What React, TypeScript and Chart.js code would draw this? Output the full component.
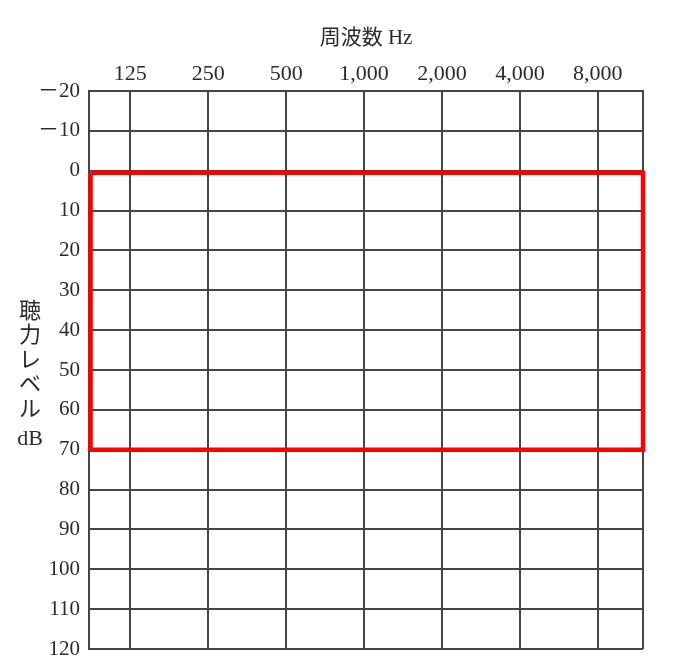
import { useEffect, useRef } from 'react';
import { Chart, registerables } from 'chart.js';

Chart.register(...registerables);

// frequency columns (index positions on the x axis)
const freqLabels = ['125', '250', '500', '1,000', '2,000', '4,000', '8,000'];
// hearing level ticks (dB), reversed axis
const dbMin = -20;
const dbMax = 120;
const dbStep = 10;
// x axis range in octave steps around the 125..8000 columns
const xMin = -0.53;
const xMax = 6.58;
// red highlighted band
const bandX = [xMin + 0.02, xMax, xMax, xMin + 0.02, xMin + 0.02];
const bandY = [0.5, 0.5, 70, 70, 0.5];

const xTitle = '周波数 Hz';
const yTitleLines = ['聴', '力', 'レ', 'ベ', 'ル', 'dB'];

const gridColor = '#454545';
const textColor = '#2a2a2a';
const serif = '"Liberation Serif", "DejaVu Serif", "Noto Sans CJK JP", serif';

const yTitlePlugin = {
  id: 'yTitle',
  afterDraw(chart: Chart) {
    const ctx = chart.ctx;
    ctx.save();
    ctx.fillStyle = textColor;
    ctx.textAlign = 'center';
    ctx.textBaseline = 'middle';
    yTitleLines.forEach((t, i) => {
      ctx.font = `${t === 'dB' ? 22 : 22}px ${serif}`;
      const y = 312 + i * 24.5 + (i === 5 ? 5 : 0);
      ctx.fillText(t, 30, y);
    });
    ctx.restore();
  },
};

export default function App() {
  const canvasRef = useRef<HTMLCanvasElement>(null);

  useEffect(() => {
    if (!canvasRef.current) return;
    const chart = new Chart(canvasRef.current, {
      type: 'line',
      data: {
        datasets: [
          {
            data: bandX.map((x, i) => ({ x, y: bandY[i] })),
            borderColor: '#ff0000',
            borderWidth: 4.5,
            pointRadius: 0,
            fill: false,
            clip: false,
          } as any,
        ],
      },
      options: {
        animation: false,
        responsive: true,
        maintainAspectRatio: false,
        layout: { padding: { left: 0, top: 0, right: 33, bottom: 23 } },
        plugins: { legend: { display: false }, tooltip: { enabled: false } },
        scales: {
          x: {
            type: 'linear',
            position: 'top',
            min: xMin,
            max: xMax,
            afterBuildTicks: (scale: any) => {
              scale.ticks = [xMin, ...freqLabels.map((_, i) => i), xMax].map((v) => ({ value: v }));
            },
            afterFit: (scale: any) => {
              scale.height = 91;
            },
            ticks: {
              autoSkip: false,
              maxRotation: 0,
              padding: 4,
              color: textColor,
              font: { family: serif, size: 22 },
              callback: (v: any) => (Number.isInteger(v) ? freqLabels[v] ?? '' : ''),
            },
            grid: { color: gridColor, lineWidth: 2, drawTicks: false },
            border: { display: true, color: gridColor, width: 2 },
            title: {
              display: true,
              text: xTitle,
              color: textColor,
              font: { family: serif, size: 21 },
              padding: { top: 26, bottom: 0 },
            },
          },
          y: {
            type: 'linear',
            reverse: true,
            min: dbMin,
            max: dbMax,
            afterFit: (scale: any) => {
              scale.width = 89;
            },
            ticks: {
              stepSize: dbStep,
              autoSkip: false,
              padding: 9,
              color: textColor,
              font: { family: serif, size: 21 },
              callback: (v: any) => (v < 0 ? '－' + Math.abs(v) : String(v)),
            },
            grid: { color: gridColor, lineWidth: 2, drawTicks: false },
            border: { display: true, color: gridColor, width: 2 },
          },
        },
      },
      plugins: [yTitlePlugin],
    });
    return () => chart.destroy();
  }, []);

  return (
    <div style={{ position: 'fixed', left: 0, top: 0, width: 676, height: 672, background: '#fff' }}>
      <canvas ref={canvasRef} />
    </div>
  );
}
